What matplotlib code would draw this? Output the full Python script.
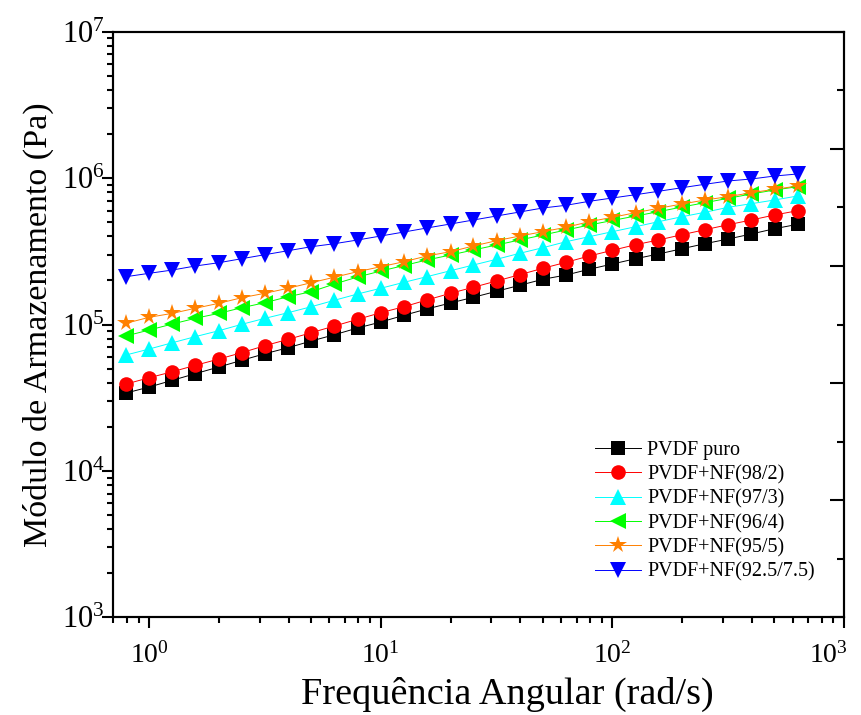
import numpy as np
import matplotlib
matplotlib.use("Agg")
import matplotlib.pyplot as plt
import matplotlib.transforms as mtransforms
from matplotlib.ticker import LogLocator, NullFormatter, MultipleLocator

plt.rcParams['font.family'] = ['Liberation Serif', 'DejaVu Serif']
plt.rcParams['mathtext.fontset'] = 'custom'
plt.rcParams['mathtext.rm'] = 'Liberation Serif'

# angular frequency (rad/s), 10 points per decade
freq = [0.794, 1.0, 1.26, 1.58, 2.0, 2.51, 3.16, 3.98, 5.01, 6.31,
        7.94, 10.0, 12.6, 15.8, 20.0, 25.1, 31.6, 39.8, 50.1, 63.1,
        79.4, 100.0, 126.0, 158.0, 200.0, 251.0, 316.0, 398.0, 501.0, 631.0]

pvdf_puro = [34040, 37400, 41590, 46130, 51270, 56940, 63170, 69420, 77140, 85180,
             94650, 104000, 115600, 127600, 140300, 153400, 168600, 185300, 203600, 217800,
             238300, 259000, 281500, 303000, 329500, 356400, 383700, 415200, 451200, 483500]

nf_98_2 = [39200, 43300, 47600, 52600, 58100, 64200, 71700, 79200, 87900, 97700,
           108500, 120400, 132300, 147000, 163400, 179600, 198200, 218900, 242100, 266000,
           293700, 321200, 350900, 377800, 410700, 444200, 480400, 517300, 559800, 598800]

nf_97_3 = [61900, 68000, 75100, 82600, 90700, 100300, 110200, 120400, 132300, 146400,
           161600, 176800, 194200, 212100, 233000, 254900, 278800, 306400, 334600, 367800,
           397900, 430500, 465600, 503700, 544900, 584100, 631800, 668700, 708600, 754700]

nf_96_4 = [83500, 91700, 100800, 110200, 119200, 130200, 140900, 154900, 167500, 189100,
           211100, 231900, 252900, 275800, 298300, 322800, 349100, 377800, 408700, 442100,
           478100, 513300, 551000, 589500, 634800, 679200, 727800, 778900, 829200, 873400]

nf_95_5 = [101900, 112000, 119200, 129000, 139600, 152400, 163400, 176800, 193000, 210400,
           229500, 248200, 268500, 293700, 314200, 343800, 373600, 402200, 430500, 461200,
           503700, 539700, 580400, 621900, 665500, 708600, 746400, 795000, 838400, 883100]

nf_925_75 = [212100, 223700, 235600, 250900, 264300, 281500, 299800, 319200, 339900, 356400,
             377800, 402200, 428400, 456200, 485900, 517300, 551000, 586800, 625000, 652000,
             694200, 731300, 770300, 812400, 859900, 907400, 955500, 986000, 1033000, 1067000]

labels = ["PVDF puro", "PVDF+NF(98/2)", "PVDF+NF(97/3)", "PVDF+NF(96/4)",
          "PVDF+NF(95/5)", "PVDF+NF(92.5/7.5)"]
series = [pvdf_puro, nf_98_2, nf_97_3, nf_96_4, nf_95_5, nf_925_75]
colors = ["#000000", "#FF0000", "#00FFFF", "#00FF00", "#FF8000", "#0000FF"]
markers = ["s", "o", "^", "<", "*", "v"]
msizes = [9.5, 10.5, 11, 11, 13, 11]

fig = plt.figure(figsize=(8.61, 7.15), dpi=100)
ax = fig.add_axes([0.1316, 0.1366, 0.8487, 0.8191])

for y, lab, c, m, ms in zip(series, labels, colors, markers, msizes):
    ax.plot(freq, y, color=c, lw=0.7, marker=m, markersize=ms,
            markeredgewidth=0, label=lab)

ax.set_xscale('log')
ax.set_yscale('log')
ax.set_xlim(0.7, 1000)
ax.set_ylim(1e3, 1e7)

ax.xaxis.set_major_locator(LogLocator(base=10, numticks=10))
ax.yaxis.set_major_locator(LogLocator(base=10, numticks=10))
ax.xaxis.set_minor_locator(LogLocator(base=10, subs=np.arange(2, 10), numticks=20))
ax.yaxis.set_minor_locator(LogLocator(base=10, subs=np.arange(2, 10), numticks=20))
ax.xaxis.set_minor_formatter(NullFormatter())
ax.yaxis.set_minor_formatter(NullFormatter())

ax.tick_params(which='both', direction='out', top=False, right=False, width=1.5)
ax.tick_params(which='major', length=8)
ax.tick_params(which='minor', length=4)
ax.tick_params(axis='x', which='major', labelsize=20, pad=10)
ax.tick_params(axis='y', which='major', labelsize=22, pad=-2)
for s in ax.spines.values():
    s.set_linewidth(1.5)

# mirrored right axis: plain linear inward ticks, no labels
ax2 = ax.twinx()
ax2.set_ylim(0, 1)
ax2.yaxis.set_major_locator(MultipleLocator(0.2))
ax2.yaxis.set_minor_locator(MultipleLocator(0.1))
ax2.tick_params(which='both', direction='in', right=True, labelright=False, width=1.5)
ax2.tick_params(which='major', length=10)
ax2.tick_params(which='minor', length=5)
for s in ax2.spines.values():
    s.set_linewidth(1.5)

ax.set_xlabel("Frequência Angular (rad/s)", fontsize=27.5)
ax.xaxis.set_label_coords(0.539, -0.102)
ax.set_ylabel("Módulo de Armazenamento (Pa)", fontsize=24.5, labelpad=6)

leg = ax.legend(loc='lower right', bbox_to_anchor=(0.985, 0.03), frameon=False,
                fontsize=14.5, handlelength=2.3, labelspacing=0.25, handletextpad=0.3,
                markerscale=1.0)

# last x tick label shifted left so it stays inside the figure
fig.canvas.draw()
for t in ax.get_xticklabels():
    if t.get_position()[0] >= 999:
        t.set_transform(t.get_transform() + mtransforms.ScaledTranslation(-16 / 100, 0, fig.dpi_scale_trans))

fig.savefig("out.png", dpi=100)
